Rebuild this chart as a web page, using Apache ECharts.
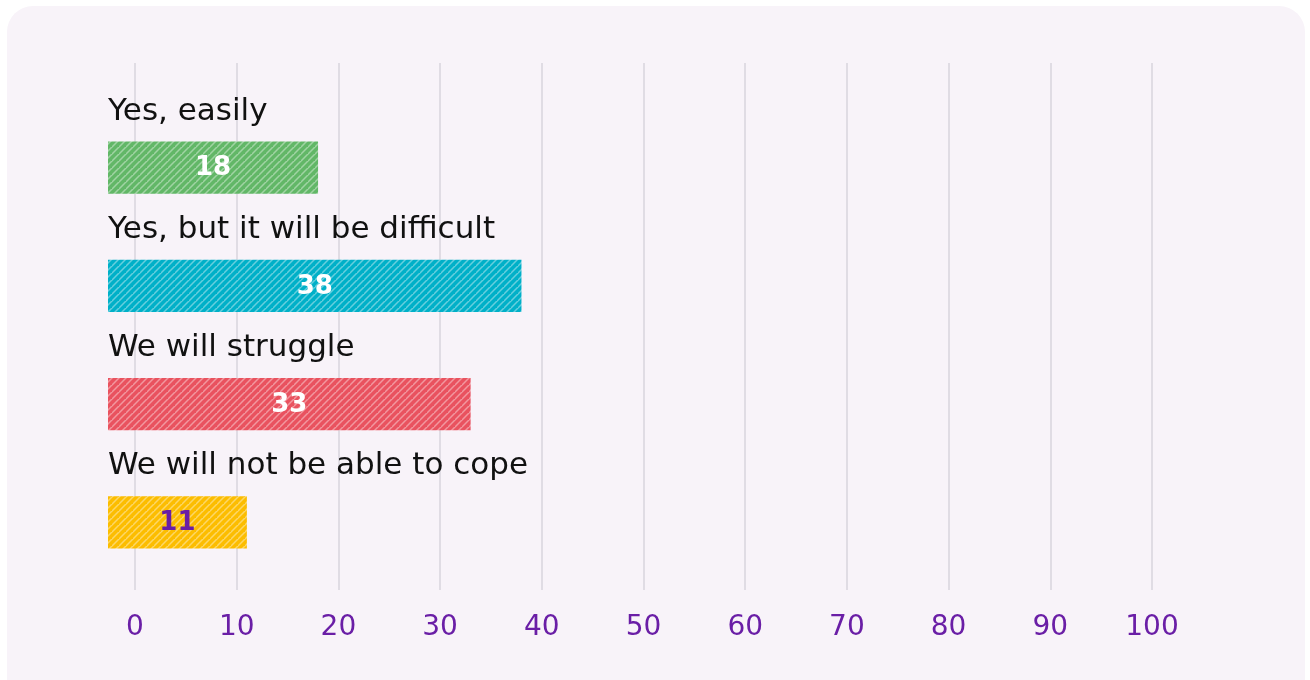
<!DOCTYPE html>
<html>
<head>
<meta charset="utf-8">
<script src="https://cdn.jsdelivr.net/npm/echarts@6/dist/echarts.min.js"></script>
<style>
  html, body { margin: 0; padding: 0; background: #ffffff; width: 1310px; height: 680px; overflow: hidden; }
  #bg { position: absolute; left: 7px; top: 6px; width: 1298px; height: 720px; border-radius: 26px; background: #f8f3f9; }
  #chart { position: absolute; left: 0; top: 0; width: 1310px; height: 680px; }
</style>
</head>
<body>
<div id="bg"></div>
<div id="chart"></div>
<script>
const categories = ['Yes, easily', 'Yes, but it will be difficult', 'We will struggle', 'We will not be able to cope'];
const values = [18, 38, 33, 11];
const barColors = ['#62b767', '#00b0c8', '#e9525f', '#fcbd00'];
const valueLabelColors = ['#ffffff', '#ffffff', '#ffffff', '#6a1ea6'];
const axisMin = 0, axisMax = 100, axisStep = 10;

function makePattern(color) {
  const s = 7;
  const c = document.createElement('canvas');
  c.width = s; c.height = s;
  const ctx = c.getContext('2d');
  ctx.fillStyle = color;
  ctx.fillRect(0, 0, s, s);
  ctx.strokeStyle = 'rgba(255,255,255,0.4)';
  ctx.lineWidth = 1.5;
  ctx.beginPath();
  ctx.moveTo(-1, s + 1); ctx.lineTo(s + 1, -1);
  ctx.moveTo(-1 - s, s + 1); ctx.lineTo(1, -1);
  ctx.moveTo(s - 1, 2 * s + 1); ctx.lineTo(2 * s + 1, s - 1);
  ctx.stroke();
  return { type: 'pattern', image: c, repeat: 'repeat' };
}
const patterns = barColors.map(makePattern);

const chart = echarts.init(document.getElementById('chart'), null, { renderer: 'canvas' });
const font = '"DejaVu Sans", "Noto Sans", sans-serif';

const option = {
  animation: false,
  grid: [
    { left: 135, right: 158, top: 63, bottom: 90 },
    { left: 135, right: 158, top: 108.5, height: 473 }
  ],
  xAxis: [
    {
      gridIndex: 0, type: 'value', min: axisMin, max: axisMax, interval: axisStep,
      axisLine: { show: false }, axisTick: { show: false },
      splitLine: { show: true, lineStyle: { color: '#d9d5dc', width: 1.5 } },
      axisLabel: { color: '#6a1ea6', fontSize: 28, fontFamily: font, margin: 24 }
    },
    {
      gridIndex: 1, type: 'value', min: axisMin, max: axisMax, show: false
    }
  ],
  yAxis: [
    { gridIndex: 0, type: 'category', data: categories, show: false },
    { gridIndex: 1, type: 'category', data: categories, inverse: true, show: false }
  ],
  series: [{
    type: 'custom',
    xAxisIndex: 1, yAxisIndex: 1,
    clip: false,
    data: values.map((v, i) => [v, i]),
    renderItem: function (params, api) {
      const i = api.value(1);
      const v = api.value(0);
      const end = api.coord([v, i]);
      const zero = api.coord([0, i]);
      const band = api.size([0, 1])[1];
      const h = band * 0.44;
      const x0 = zero[0] - 27;
      const cy = end[1];
      return {
        type: 'group',
        children: [
          {
            type: 'rect',
            shape: { x: x0, y: cy - h / 2, width: end[0] - x0, height: h },
            style: { fill: patterns[i] }
          },
          {
            type: 'text',
            style: {
              text: String(values[i]), x: (x0 + end[0]) / 2, y: cy + 1,
              align: 'center', verticalAlign: 'middle',
              fill: valueLabelColors[i], font: 'bold 26px ' + font
            }
          },
          {
            type: 'text',
            style: {
              text: categories[i], x: x0, y: cy - band * 0.475,
              align: 'left', verticalAlign: 'middle',
              fill: '#111111', font: '31px ' + font
            }
          }
        ]
      };
    }
  }]
};
chart.setOption(option);
</script>
</body>
</html>
